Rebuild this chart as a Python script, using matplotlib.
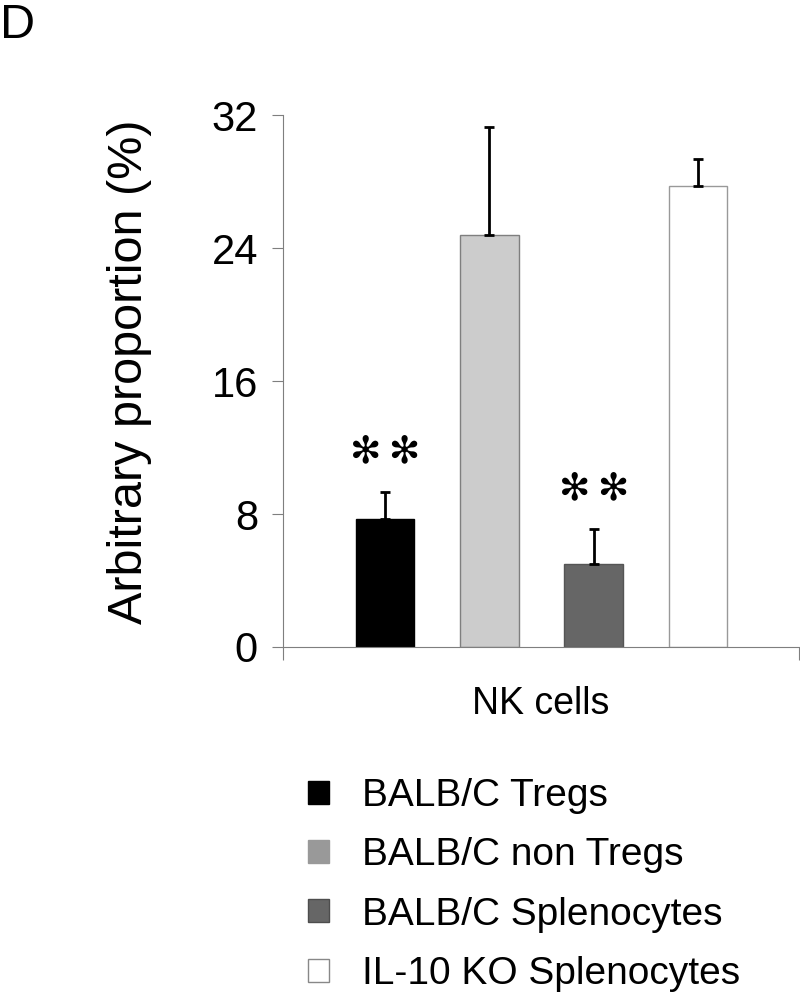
import matplotlib.pyplot as plt
from matplotlib.patches import Patch

plt.rcParams['font.family'] = ['Liberation Sans', 'DejaVu Sans']

# data
groups = ["BALB/C Tregs", "BALB/C non Tregs", "BALB/C Splenocytes", "IL-10 KO Splenocytes"]
means = [7.7, 24.8, 5.0, 27.7]
errors = [1.6, 6.5, 2.1, 1.65]
signif = ["\u273b\u2009\u273b", "", "\u273b\u2009\u273b", ""]
category = "NK cells"
yticks = [0, 8, 16, 24, 32]

bar_colors = ["#000000", "#cccccc", "#666666", "#ffffff"]
bar_edges = ["#000000", "#7f7f7f", "#555555", "#999999"]
legend_colors = ["#000000", "#999999", "#666666", "#ffffff"]
legend_edges = ["#000000", "#999999", "#4d4d4d", "#888888"]

fig = plt.figure(figsize=(8, 9.96), dpi=100)
ax = fig.add_axes([283/800, 1-647/996, 516/800, 532/996])

x = list(range(len(groups)))
ax.bar(x, means, width=0.56, color=bar_colors, edgecolor=bar_edges, linewidth=1, zorder=2)
ax.errorbar(x, means, yerr=[[0]*len(errors), errors], fmt='none', ecolor='black',
            elinewidth=2, capsize=3.3, capthick=2, zorder=3)

# significance stars
for xi, m, e, s in zip(x, means, errors, signif):
    if s:
        ax.text(xi, m + e + 2.4, s, ha='center', va='center', fontsize=27,
                family=['DejaVu Sans'])

ax.set_xlim(-0.98, 3.97)
ax.set_ylim(0, 32)
ax.set_yticks(yticks)
ax.set_yticklabels([str(t) for t in yticks], fontsize=30)
ax.set_xticks([-0.98, 3.97])
ax.set_xticklabels([])
ax.tick_params(axis='y', direction='out', length=8, width=0.8, color='#7f7f7f', pad=10)
ax.tick_params(axis='x', direction='out', length=9, width=0.8, color='#7f7f7f')

for side in ['top', 'right']:
    ax.spines[side].set_visible(False)
for side in ['left', 'bottom']:
    ax.spines[side].set_color('#7f7f7f')
    ax.spines[side].set_linewidth(0.8)

ax.set_ylabel("Arbitrary proportion (%)", fontsize=35)
ax.yaxis.set_label_coords(-0.254, 0.517)
ax.set_xlabel(category, fontsize=27)
ax.xaxis.set_label_coords(0.5, -0.073)

fig.text(0.0, 1-3/996, "D", fontsize=35, ha='left', va='top')

handles = [Patch(facecolor=c, edgecolor=ec, linewidth=1) for c, ec in zip(legend_colors, legend_edges)]
fig.legend(handles, groups, loc='upper left', bbox_to_anchor=(308/800, 1-778/996),
           frameon=False, fontsize=28, handlelength=0.54, handleheight=0.54,
           handletextpad=0.85, labelspacing=0.6, borderpad=0, borderaxespad=0)

fig.savefig("out.png", dpi=100)
